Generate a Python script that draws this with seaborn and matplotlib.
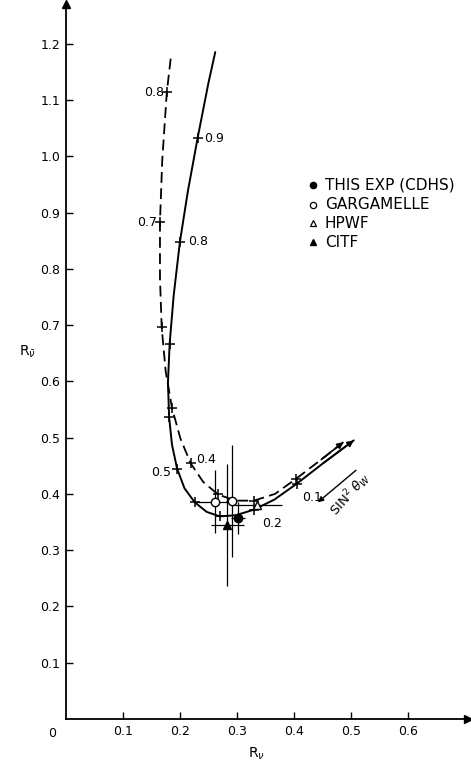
import numpy as np
import pandas as pd
import matplotlib
matplotlib.use("Agg")
import matplotlib.pyplot as plt
import seaborn as sns

# Weinberg-Salam predictions in the (R_nu, R_nubar) plane, parametrised by sin^2(theta_W)
sin2_solid = [0.0, 0.05, 0.1, 0.15, 0.2, 0.25, 0.3, 0.35, 0.4, 0.45, 0.5,
              0.55, 0.6, 0.65, 0.7, 0.75, 0.8, 0.85, 0.9, 0.95, 0.98]
rv_solid = [0.505, 0.452, 0.405, 0.366, 0.330, 0.298, 0.270, 0.247, 0.226, 0.208, 0.195,
            0.186, 0.181, 0.179, 0.182, 0.189, 0.200, 0.214, 0.231, 0.250, 0.262]
rvbar_solid = [0.495, 0.455, 0.418, 0.390, 0.372, 0.362, 0.360, 0.368, 0.385, 0.410, 0.445,
               0.488, 0.537, 0.598, 0.667, 0.752, 0.848, 0.938, 1.032, 1.130, 1.185]

sin2_dashed = [0.0, 0.05, 0.1, 0.15, 0.2, 0.25, 0.3, 0.35, 0.4, 0.45, 0.5,
               0.55, 0.6, 0.65, 0.7, 0.75, 0.8, 0.83]
rv_dashed = [0.487, 0.448, 0.404, 0.367, 0.330, 0.297, 0.267, 0.241, 0.219, 0.201, 0.186,
             0.175, 0.168, 0.165, 0.165, 0.169, 0.177, 0.184]
rvbar_dashed = [0.492, 0.461, 0.427, 0.400, 0.388, 0.388, 0.399, 0.421, 0.454, 0.498, 0.553,
                0.618, 0.696, 0.784, 0.883, 0.993, 1.114, 1.175]

# sin^2 values carrying a tick mark, and the ones that are labelled
ticks_solid = [0.1, 0.2, 0.3, 0.4, 0.5, 0.6, 0.7, 0.8, 0.9]
ticks_dashed = [0.1, 0.2, 0.3, 0.4, 0.5, 0.6, 0.7, 0.8]
labels_solid = ["0.1", "0.2", "0.5", "0.8", "0.9"]
labels_dashed = ["0.4", "0.7", "0.8"]

# Measurements
cdhs_rv, cdhs_rvbar, cdhs_xerr, cdhs_yerr = [0.302], [0.357], [0.012], [0.028]
garg_rv, garg_rvbar = [0.262, 0.291], [0.386, 0.387]
garg_xerr, garg_yerr = [0.035, 0.010], [0.056, 0.100]
hpwf_rv, hpwf_rvbar, hpwf_xerr, hpwf_yerr = [0.335], [0.381], [0.045], [0.0]
citf_rv, citf_rvbar, citf_xerr, citf_yerr = [0.283], [0.345], [0.029], [0.108]

legend_labels = ["THIS EXP (CDHS)", "GARGAMELLE", "HPWF", "CITF"]
xticks = [0.1, 0.2, 0.3, 0.4, 0.5, 0.6]
yticks = [0.1, 0.2, 0.3, 0.4, 0.5, 0.6, 0.7, 0.8, 0.9, 1.0, 1.1, 1.2]

sns.set_style("ticks")
plt.rcParams["font.family"] = ["DejaVu Sans"]
plt.rcParams.update({"text.color": "black", "xtick.color": "black",
                     "ytick.color": "black", "axes.edgecolor": "black",
                     "axes.labelcolor": "black"})

fig = plt.figure(figsize=(4.71, 7.66), dpi=100)
ax = fig.add_axes([0.140, 0.0614, 0.853, 0.933])
ax.set_xlim(0, 0.705)
ax.set_ylim(0, 1.27)

solid = pd.DataFrame({"s": sin2_solid, "rv": rv_solid, "rvbar": rvbar_solid})
dashed = pd.DataFrame({"s": sin2_dashed, "rv": rv_dashed, "rvbar": rvbar_dashed})

sns.lineplot(data=solid, x="rv", y="rvbar", sort=False, estimator=None,
             color="black", lw=1.4, ax=ax)
sns.lineplot(data=dashed, x="rv", y="rvbar", sort=False, estimator=None,
             color="black", lw=1.3, ax=ax, dashes=False, linestyle=(0, (6, 3)))

# arrow heads at sin^2 = 0
for df in (solid, dashed):
    ax.annotate("", xy=(df.rv.iloc[0], df.rvbar.iloc[0]),
                xytext=(df.rv.iloc[1], df.rvbar.iloc[1]),
                arrowprops=dict(arrowstyle="-|>", color="black", lw=1.2,
                                mutation_scale=9, shrinkA=0, shrinkB=0))

# tick marks along the curves
tk_s = solid[solid.s.round(2).isin(ticks_solid)]
tk_d = dashed[dashed.s.round(2).isin(ticks_dashed)]
sns.scatterplot(data=tk_s, x="rv", y="rvbar", marker="+", s=45, color="black",
                linewidth=1.1, ax=ax, zorder=4)
sns.scatterplot(data=tk_d, x="rv", y="rvbar", marker="+", s=45, color="black",
                linewidth=1.1, ax=ax, zorder=4)

# tick labels on the curves (offsets in points)
solid_offsets = {"0.1": (4, -10, "left"), "0.2": (6, -10, "left"),
                 "0.5": (-4, -3, "right"), "0.8": (6, 0, "left"), "0.9": (5, 0, "left")}
dashed_offsets = {"0.4": (4, 3, "left"), "0.7": (-2, 0, "right"), "0.8": (-2, 0, "right")}
for lab in labels_solid:
    row = solid[np.isclose(solid.s, float(lab))].iloc[0]
    dx, dy, ha = solid_offsets[lab]
    ax.annotate(lab, (row.rv, row.rvbar), xytext=(dx, dy), textcoords="offset points",
                ha=ha, va="center", fontsize=9)
for lab in labels_dashed:
    row = dashed[np.isclose(dashed.s, float(lab))].iloc[0]
    dx, dy, ha = dashed_offsets[lab]
    ax.annotate(lab, (row.rv, row.rvbar), xytext=(dx, dy), textcoords="offset points",
                ha=ha, va="center", fontsize=9)

# measurements with error bars
eb = dict(fmt="none", ecolor="black", elinewidth=0.9, capsize=0, zorder=3)
ax.errorbar(garg_rv, garg_rvbar, xerr=garg_xerr, yerr=garg_yerr, **eb)
ax.errorbar(hpwf_rv, hpwf_rvbar, xerr=hpwf_xerr, yerr=hpwf_yerr, **eb)
ax.errorbar(citf_rv, citf_rvbar, xerr=citf_xerr, yerr=citf_yerr, **eb)
ax.errorbar(cdhs_rv, cdhs_rvbar, xerr=cdhs_xerr, yerr=cdhs_yerr, **eb)
ax.plot(garg_rv, garg_rvbar, "o", mfc="white", mec="black", ms=6, mew=1, zorder=5)
ax.plot(hpwf_rv, hpwf_rvbar, "^", mfc="white", mec="black", ms=6, mew=1, zorder=5)
ax.plot(citf_rv, citf_rvbar, "^", color="black", ms=6, zorder=5)
ax.plot(cdhs_rv, cdhs_rvbar, "o", color="black", ms=6, zorder=5)

# key
key_y = [0.948, 0.914, 0.881, 0.847]
key_style = [dict(marker="o", color="black"),
             dict(marker="o", mfc="white", mec="black", mew=0.9),
             dict(marker="^", mfc="white", mec="black", mew=0.9),
             dict(marker="^", color="black")]
for yy, st, lab in zip(key_y, key_style, legend_labels):
    ax.plot([0.433], [yy], ls="none", ms=4.5, **st)
    ax.text(0.454, yy, lab, fontsize=11, va="center", ha="left")

# sin^2 theta_W direction
ax.annotate("", xy=(0.442, 0.385), xytext=(0.509, 0.442),
            arrowprops=dict(arrowstyle="-|>", color="black", lw=1.0,
                            mutation_scale=8, shrinkA=0, shrinkB=0))
ax.text(0.500, 0.400, r"SIN$^2$ $\theta_W$", rotation=48, fontsize=9.5,
        ha="center", va="center", rotation_mode="anchor")

# axes with arrow ends
sns.despine(ax=ax)
for sp in ("left", "bottom"):
    ax.spines[sp].set_linewidth(1.3)
    ax.spines[sp].set_color("black")
ax.plot(1, 0, ">k", ms=6, transform=ax.get_yaxis_transform(), clip_on=False)
ax.plot(0, 1, "^k", ms=6, transform=ax.get_xaxis_transform(), clip_on=False)

ax.set_xticks(xticks)
ax.set_yticks(yticks)
ax.set_xticklabels([f"{v:.1f}" for v in xticks])
ax.set_yticklabels([f"{v:.1f}" for v in yticks])
ax.tick_params(direction="in", length=5, width=1.0, labelsize=9, pad=4,
               colors="black")
ax.set_xlabel("")
ax.set_ylabel("")
ax.text(-0.025, -0.025, "0", fontsize=9, ha="center", va="center")
ax.text(0.335, -0.062, r"R$_\nu$", fontsize=10, ha="center", va="center")
ax.text(-0.068, 0.652, r"R$_{\bar{\nu}}$", fontsize=10, ha="center", va="center")

fig.savefig("out.png", dpi=100)
